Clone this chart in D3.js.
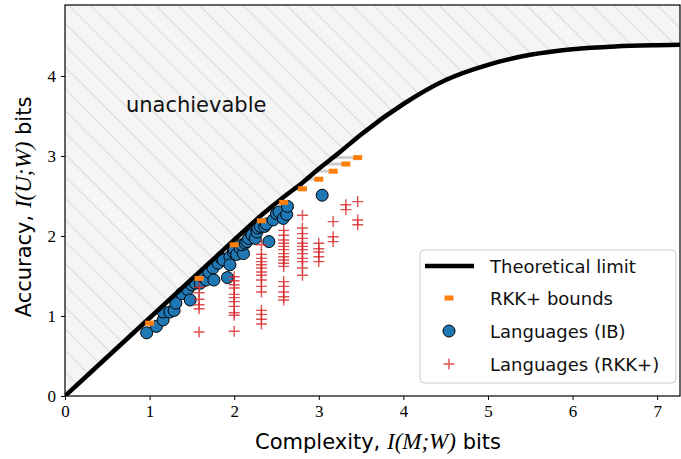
<!DOCTYPE html>
<html><head><meta charset="utf-8">
<script src="https://cdn.jsdelivr.net/npm/d3@7"></script>
<style>body{margin:0;background:#fff}svg{display:block}</style>
</head><body><svg id="c" width="681" height="459"></svg>
<script>
// ---- data ----
const limitX = [0, 1, 2, 2.3, 2.6, 2.8, 3.0, 3.25, 3.5, 4, 4.5, 5, 5.5, 6, 6.5, 7, 7.3];
const limitY = [0, 0.975, 1.95, 2.24, 2.5, 2.66, 2.84, 3.05, 3.27, 3.65, 3.95, 4.14, 4.265, 4.335, 4.37, 4.385, 4.39];

const boundX = [1.0, 1.585, 2.0, 2.322, 2.585, 2.807, 3.0, 3.17, 3.32, 3.46];
const boundY = [0.91, 1.47, 1.89, 2.19, 2.42, 2.59, 2.71, 2.81, 2.90, 2.98];

const ibX = [0.965,1.08,1.16,1.16,1.24,1.29,1.31,1.38,1.45,1.48,1.50,1.54,1.60,1.63,1.67,1.70,1.75,1.76,1.81,1.85,1.87,1.92,1.95,1.95,1.99,2.00,2.03,2.07,2.11,2.09,2.13,2.15,2.17,2.20,2.21,2.25,2.27,2.28,2.31,2.36,2.38,2.41,2.46,2.50,2.53,2.58,2.62,2.63,3.04];
const ibY = [0.79,0.87,0.95,1.05,1.05,1.07,1.16,1.28,1.33,1.20,1.39,1.41,1.41,1.49,1.45,1.55,1.60,1.45,1.66,1.72,1.70,1.48,1.74,1.64,1.80,1.83,1.77,1.85,1.78,1.89,1.91,1.93,1.97,2.03,2.01,1.97,2.05,2.10,2.12,2.12,2.15,1.93,2.20,2.28,2.30,2.22,2.27,2.37,2.51];

const rkkX = [1.585, 2.0, 2.322, 2.585, 2.807, 3.0, 3.17, 3.32, 3.46];
const rkkY = [
  [1.36, 1.29, 1.21, 1.14, 1.09, 0.80],
  [1.49, 1.44, 1.39, 1.35, 1.27, 1.23, 1.18, 1.12, 1.04, 1.01, 0.81],
  [1.89, 1.77, 1.72, 1.68, 1.64, 1.60, 1.55, 1.51, 1.45, 1.37, 1.30, 1.07, 1.02, 0.96, 0.90],
  [2.07, 2.01, 1.95, 1.91, 1.87, 1.83, 1.78, 1.74, 1.70, 1.66, 1.62, 1.43, 1.37, 1.30, 1.24, 1.20],
  [2.26, 2.10, 2.03, 1.97, 1.91, 1.87, 1.83, 1.78, 1.72, 1.68, 1.60, 1.51],
  [1.91, 1.84, 1.80, 1.74, 1.68],
  [2.18, 1.99, 1.93],
  [2.39, 2.33],
  [2.43, 2.20, 2.14]
];

const xTicks = [0, 1, 2, 3, 4, 5, 6, 7];
const yTicks = [0, 1, 2, 3, 4];
const legendLabels = ["Theoretical limit", "RKK+ bounds", "Languages (IB)", "Languages (RKK+)"];

// ---- drawing ----
const svg = d3.select("#c");
const L = 65, R = 680, T = 5, B = 396;
const x = d3.scaleLinear().domain([0, 7.27]).range([L, R]);
const y = d3.scaleLinear().domain([0, 4.8875]).range([B, T]);
const SANS = "'DejaVu Sans', sans-serif";
const SERIF = "'Liberation Serif', 'DejaVu Serif', serif";

const defs = svg.append("defs");
defs.append("clipPath").attr("id", "clip").append("rect")
  .attr("x", L).attr("y", T).attr("width", R - L).attr("height", B - T);
const s = 21.8;
const pat = defs.append("pattern").attr("id", "hatch").attr("patternUnits", "userSpaceOnUse")
  .attr("width", s).attr("height", s).attr("x", 3).attr("y", T);
pat.append("rect").attr("width", s).attr("height", s).attr("fill", "#f5f5f5");
pat.append("path").attr("d", `M0,0L${s},${s}M${s-2},-2L${s+2},2M-2,${s-2}L2,${s+2}`)
  .attr("stroke", "#dadada").attr("stroke-width", 1.1);

const limit = limitX.map((v, i) => ({x: v, y: limitY[i]}));
const g = svg.append("g").attr("clip-path", "url(#clip)");

g.append("path").datum(limit)
  .attr("d", d3.area().x(d => x(d.x)).y0(T).y1(d => y(d.y)).curve(d3.curveMonotoneX))
  .attr("fill", "url(#hatch)");

g.append("text").attr("x", x(0.72)).attr("y", y(3.55)).text("unachievable")
  .attr("font-family", SANS).attr("font-size", 21).attr("fill", "#111");

// IB languages
g.selectAll("circle.ib").data(ibX.map((v, i) => ({x: v, y: ibY[i]}))).join("circle")
  .attr("class", "ib").attr("cx", d => x(d.x)).attr("cy", d => y(d.y)).attr("r", 6)
  .attr("fill", "#1f77b4").attr("stroke", "#000").attr("stroke-width", 1);

// RKK+ languages
const rkk = [];
rkkX.forEach((xv, i) => rkkY[i].forEach(yv => rkk.push({x: xv, y: yv})));
g.selectAll("path.rkk").data(rkk).join("path").attr("class", "rkk")
  .attr("d", d => `M${x(d.x)-5.5},${y(d.y)}h11M${x(d.x)},${y(d.y)-5.5}v11`)
  .attr("stroke", "#d62728").attr("stroke-width", 1.4).attr("stroke-opacity", 0.8).attr("fill", "none");

// theoretical limit curve
const curvePath = g.append("path").datum(limit)
  .attr("d", d3.line().x(d => x(d.x)).y(d => y(d.y)).curve(d3.curveMonotoneX))
  .attr("fill", "none").attr("stroke", "#000").attr("stroke-width", 4.5);

// gray connectors from the limit to each bound (same accuracy)
const node = curvePath.node();
const total = node.getTotalLength();
function pxAtPy(py) {
  let lo = 0, hi = total;
  for (let k = 0; k < 40; k++) {
    const mid = (lo + hi) / 2;
    if (node.getPointAtLength(mid).y > py) lo = mid; else hi = mid;
  }
  return node.getPointAtLength(lo).x;
}
const bounds = boundX.map((v, i) => ({x: v, y: boundY[i]}));
g.insert("g", () => node).selectAll("line").data(bounds).join("line")
  .attr("x1", d => pxAtPy(y(d.y))).attr("x2", d => x(d.x))
  .attr("y1", d => y(d.y)).attr("y2", d => y(d.y))
  .attr("stroke", "#cfcfcf").attr("stroke-width", 3);

g.selectAll("rect.bound").data(bounds).join("rect").attr("class", "bound")
  .attr("x", d => x(d.x) - 4.5).attr("y", d => y(d.y) - 2.5).attr("width", 9).attr("height", 5)
  .attr("fill", "#ff7f0e");

// axes
const xa = svg.append("g").attr("transform", `translate(0,${B})`)
  .call(d3.axisBottom(x).tickValues(xTicks).tickSize(4).tickPadding(5).tickFormat(d3.format("d")));
const ya = svg.append("g").attr("transform", `translate(${L},0)`)
  .call(d3.axisLeft(y).tickValues(yTicks).tickSize(4).tickPadding(5).tickFormat(d3.format("d")));
[xa, ya].forEach(a => {
  a.select(".domain").remove();
  a.selectAll("line").attr("stroke", "#000").attr("stroke-width", 1);
  a.selectAll("text").attr("font-family", SERIF).attr("font-size", 17).attr("fill", "#000");
});
svg.append("rect").attr("x", L).attr("y", T).attr("width", R - L).attr("height", B - T)
  .attr("fill", "none").attr("stroke", "#000").attr("stroke-width", 1.2);

// axis labels
function label(sel, pre, math, post) {
  sel.attr("font-family", SANS).attr("font-size", 21).attr("fill", "#000").attr("text-anchor", "middle");
  sel.append("tspan").text(pre);
  sel.append("tspan").attr("font-family", SERIF).attr("font-style", "italic").attr("font-size", 23).text(math);
  sel.append("tspan").text(post);
}
label(svg.append("text").attr("x", 378).attr("y", 449), "Complexity, ", "I(M;W)", " bits");
label(svg.append("text").attr("transform", "translate(31,207) rotate(-90)"), "Accuracy, ", "I(U;W)", " bits");

// legend
const lg = svg.append("g");
lg.append("rect").attr("x", 420).attr("y", 250).attr("width", 256).attr("height", 133).attr("rx", 4)
  .attr("fill", "#fff").attr("fill-opacity", 0.85).attr("stroke", "#cccccc").attr("stroke-width", 1);
const rowY = [266, 298, 331, 364];
const hx = 449;
lg.append("line").attr("x1", 425).attr("x2", 474).attr("y1", rowY[0]).attr("y2", rowY[0])
  .attr("stroke", "#000").attr("stroke-width", 4.5);
lg.append("rect").attr("x", hx - 4.5).attr("y", rowY[1] - 2.5).attr("width", 9).attr("height", 5).attr("fill", "#ff7f0e");
lg.append("circle").attr("cx", hx).attr("cy", rowY[2]).attr("r", 6).attr("fill", "#1f77b4").attr("stroke", "#000");
lg.append("path").attr("d", `M${hx-5.5},${rowY[3]}h11M${hx},${rowY[3]-5.5}v11`)
  .attr("stroke", "#d62728").attr("stroke-width", 1.4).attr("stroke-opacity", 0.8);
lg.selectAll("text").data(legendLabels).join("text")
  .attr("x", 490).attr("y", (d, i) => rowY[i] + 6.5).text(d => d)
  .attr("font-family", SANS).attr("font-size", 18).attr("fill", "#111");
</script></body></html>
